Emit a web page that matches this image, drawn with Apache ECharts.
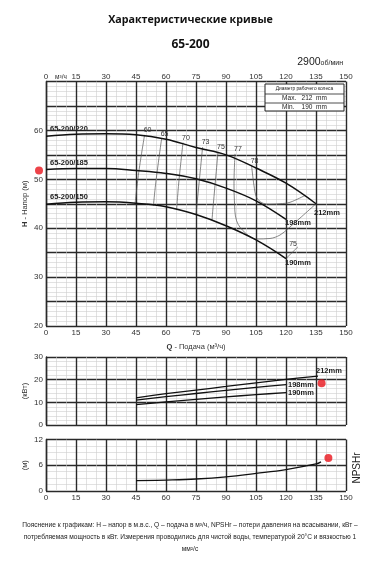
<!DOCTYPE html>
<html><head><meta charset="utf-8">
<script src="https://cdn.jsdelivr.net/npm/echarts@6/dist/echarts.min.js"></script>
<style>html,body{margin:0;padding:0;background:#fff}#c{width:381px;height:567px}</style>
</head><body><div id="c"></div>
<script>
// ---- data ----
const qHead212 = [0,15,30,45,60,75,90,105,120,135];
const head212  = [58.8,59.2,59.3,59.1,58.2,56.5,55.0,52.3,49.2,45.0];
const qHead198 = [0,15,30,45,60,75,90,105,120];
const head198  = [52.0,52.2,52.2,51.8,51.2,50.1,48.2,45.6,41.8];
const qHead190 = [0,15,30,45,60,75,90,105,120];
const head190  = [44.9,45.3,45.4,45.1,44.4,42.8,40.5,37.6,33.8];

const eff60 = [[49.3,59.1],[46.5,51.8],[44.5,44.9]];
const eff65 = [[57.8,58.3],[56.2,53.5],[54.8,49.0],[53.7,44.6]];
const eff70 = [[68.5,57.5],[67.3,53.0],[66.2,48.5],[65.3,43.7]];
const eff73 = [[78.3,56.6],[77.2,52.0],[76.0,47.0],[75.0,42.8]];
const eff75 = [[86.0,55.6],[85.0,51.0],[84.0,46.5],[83.0,41.7]];
const eff77 = [[94.5,55.2],[94.0,49.1],[94.2,45.6],[95.3,41.5],[99.5,39.1],[105.3,37.8],[112,37.9],[117,38.6],[121,39.9],[135,45.0]];
const eff78 = [[102.8,52.8],[104,48.7],[105.3,46.3],[108,45.2],[112,44.9],[117,45.0],[122,45.3],[129.5,46.7]];
const eff75b = [[120,33.8],[126,36.2]];
const effLabels = ['60','65','70','73','75','77','78','75'];

const qPow212 = [45,60,75,90,105,120,136];
const pow212  = [12.0,13.8,15.4,17.0,18.6,20.1,21.6];
const qPow    = [45,60,75,90,105,120];
const pow198  = [11.0,12.5,13.9,15.3,16.6,17.8];
const pow190  = [9.0,10.2,11.3,12.4,13.4,14.3];

const qNpsh = [45,60,75,90,105,120,135,137.5];
const npsh  = [2.4,2.55,2.8,3.3,4.1,5.0,6.3,6.8];

const headMarker  = [-3.5, 51.8];
const powerMarker = [137.8, 18.4];
const npshMarker  = [141.2, 7.7];

const curveNames = ['65-200/220','65-200/185','65-200/150'];
const endNames = ['212mm','198mm','190mm'];
const powNames = ['212mm','198mm','190mm'];

// ---- chart ----
const zip = (a,b) => a.map((v,i)=>[v,b[i]]);
const F = 'Liberation Sans, Arial, sans-serif';
const major = {show:true, lineStyle:{color:'#2a2a2a', width:1.4}};
const minor = {show:true, lineStyle:{color:'#cfcfcf', width:0.6}};
function xAx(grid, pos, showLabel, split, margin){
  return {type:'value', gridIndex:grid, position:pos, min:0, max:150, interval:15,
    axisLine:{show:false}, axisTick:{show:false},
    axisLabel:{show:showLabel, fontSize:8, color:'#333', fontFamily:F, margin:margin},
    splitLine: split ? major : {show:false},
    minorTick:{show:false, splitNumber:3},
    minorSplitLine: split ? minor : {show:false}};
}
function yAx(grid, min, max, interval, minorN, fmt, name, gap){
  return {type:'value', gridIndex:grid, min:min, max:max, interval:interval,
    axisLine:{show:true, lineStyle:{color:'#2a2a2a', width:1.4}},
    axisTick:{show:false},
    axisLabel:{fontSize:8, color:'#333', fontFamily:F, margin:3, formatter:fmt},
    splitLine: major, minorTick:{show:false, splitNumber:minorN}, minorSplitLine: minor,
    name:name, nameLocation:'middle', nameGap:gap, nameRotate:90, nameMoveOverlap:false,
    nameTextStyle:{fontSize:7.5, color:'#333', fontFamily:F, rich:{b:{fontWeight:'bold', fontSize:7.5, fontFamily:F}}}};
}
const hidden = {symbol:'circle', symbolSize:0.01, showSymbol:true, itemStyle:{color:'rgba(0,0,0,0)'}};
const series = [];
const headSets = [[qHead212,head212],[qHead198,head198],[qHead190,head190]];
const endOff = [[-4,9],[-3,4],[-3,4]];
headSets.forEach((s,i)=>{
  const data = zip(s[0],s[1]);
  data[0] = {value:data[0], label:{show:true, formatter:curveNames[i], position:'top', align:'left', offset:[4,0], distance:3,
    fontSize:7.5, fontWeight:'bold', color:'#222', fontFamily:F}};
  series.push(Object.assign({type:'line', xAxisIndex:0, yAxisIndex:0, data:data, smooth:0.4,
    lineStyle:{color:'#111', width:1.5}, label:{show:false},
    endLabel:{show:true, formatter:endNames[i], fontSize:7.5, fontWeight:'bold', color:'#222', fontFamily:F, offset:endOff[i], distance:2}, z:5}, hidden));
});
const effSets = [eff60,eff65,eff70,eff73,eff75,eff77,eff78,eff75b];
effSets.forEach((pts,i)=>{
  const last = i===effSets.length-1;
  const data = pts.map(p=>p.slice());
  const li = last ? data.length-1 : 0;
  data[li] = {value:data[li], label:{show:true, formatter:effLabels[i], position:last?'left':'top', distance:last?1:2, offset:last?[0,-3]:[3,1],
    fontSize:7, color:'#333', fontFamily:F}};
  series.push(Object.assign({type:'line', xAxisIndex:0, yAxisIndex:0, data:data, smooth:0.35, label:{show:false},
    lineStyle:{color:'#555', width:0.7}, z:4}, hidden));
});
const powSets = [[qPow212,pow212],[qPow,pow198],[qPow,pow190]];
const powOff = [[-4,-5],[0,0],[0,0]];
powSets.forEach((s,i)=>{
  series.push({type:'line', xAxisIndex:2, yAxisIndex:1, data:zip(s[0],s[1]), smooth:0.3, symbol:'none',
    lineStyle:{color:'#111', width:1.3},
    endLabel:{show:true, formatter:powNames[i], fontSize:7.5, fontWeight:'bold', color:'#222', fontFamily:F, offset:powOff[i], distance:2}, z:5});
});
series.push({type:'line', xAxisIndex:3, yAxisIndex:2, data:zip(qNpsh,npsh), smooth:0.4, symbol:'none',
  lineStyle:{color:'#111', width:1.3}, z:5});
[[0,0,headMarker],[2,1,powerMarker],[3,2,npshMarker]].forEach(m=>{
  series.push({type:'scatter', xAxisIndex:m[0], yAxisIndex:m[1], data:[m[2]], symbolSize:8, clip:false,
    itemStyle:{color:'#e8141b'}, z:6});
});

const foot = [
 'Пояснение к графикам: H – напор в м.в.с., Q – подача в м³/ч, NPSHr – потери давления на всасывании, кВт –',
 'потребляемая мощность в кВт. Измерения проводились для чистой воды, температурой 20°C и вязкостью 1',
 'мм²/с'];

const option = {
  animation:false,
  backgroundColor:'#fff',
  grid:[
    {left:46, top:81.5, width:300, height:244.5},
    {left:46, top:357, width:300, height:68},
    {left:46, top:439.5, width:300, height:51.5}
  ],
  xAxis:[
    Object.assign(xAx(0,'bottom',true,true,3), {name:'{b|Q} - Подача (м³/ч)', nameLocation:'middle', nameGap:17, nameMoveOverlap:false,
      nameTextStyle:{fontSize:7.5, color:'#333', fontFamily:F, rich:{b:{fontWeight:'bold', fontSize:7.5, fontFamily:F}}}}),
    xAx(0,'top',true,false,1),
    xAx(1,'bottom',false,true,3),
    xAx(2,'bottom',true,true,3)
  ],
  yAxis:[
    yAx(0,20,70,5,5,v=> (v%10===0 && v<70) ? v : '', '{b|H} - Напор (м)', 17),
    yAx(1,0,30,10,5,null,'(кВт)', 17),
    yAx(2,0,12,6,4,null,'(м)', 17)
  ],
  series: series,
  graphic:[
    {type:'text', left:'center', top:14, style:{text:'Характеристические кривые', fontSize:10.7, fontWeight:'bold', fill:'#111', fontFamily:'Open Sans'}},
    {type:'text', left:'center', top:39, style:{text:'65-200', fontSize:12, fontWeight:'bold', fill:'#111', fontFamily:'Open Sans'}},
    {type:'text', right:38, top:57, style:{text:'{a|2900}{u|об/мин}', rich:{a:{fontSize:10.5, fill:'#222', fontFamily:F}, u:{fontSize:7, fill:'#222', fontFamily:F, padding:[2,0,0,0]}}}},
    {type:'text', x:55, y:77, z:100, style:{text:'м³/ч', fontSize:6.5, fill:'#333', fontFamily:F, verticalAlign:'middle'}},
    {type:'rect', z:100, shape:{x:265,y:84,width:79,height:27}, style:{fill:'#fff', stroke:'#222', lineWidth:1}},
    {type:'line', z:101, shape:{x1:265,y1:94,x2:344,y2:94}, style:{stroke:'#222', lineWidth:0.8}},
    {type:'line', z:101, shape:{x1:265,y1:103,x2:344,y2:103}, style:{stroke:'#222', lineWidth:0.8}},
    {type:'text', z:102, x:304.5, y:89, style:{text:'Диаметр рабочего колеса', fontSize:4.8, fill:'#222', fontFamily:F, align:'center', verticalAlign:'middle'}},
    {type:'text', z:102, x:304.5, y:98.5, style:{text:'Max.   212  mm', fontSize:6.5, fill:'#222', fontFamily:F, align:'center', verticalAlign:'middle'}},
    {type:'text', z:102, x:304.5, y:107, style:{text:'Min.    190  mm', fontSize:6.5, fill:'#222', fontFamily:F, align:'center', verticalAlign:'middle'}},
    {type:'text', x:357, y:468, rotation:Math.PI/2, style:{text:'NPSHr', fontSize:10, fill:'#222', fontFamily:F, align:'center', verticalAlign:'middle'}},
    {type:'text', x:190, y:525, style:{text:foot[0], fontSize:6.6, fill:'#222', fontFamily:F, align:'center', verticalAlign:'middle'}},
    {type:'text', x:190, y:537.5, style:{text:foot[1], fontSize:6.6, fill:'#222', fontFamily:F, align:'center', verticalAlign:'middle'}},
    {type:'text', x:190, y:549, style:{text:foot[2], fontSize:6.6, fill:'#222', fontFamily:F, align:'center', verticalAlign:'middle'}}
  ]
};
const chart = echarts.init(document.getElementById('c'), null, {renderer:'canvas'});
chart.setOption(option);
</script></body></html>
